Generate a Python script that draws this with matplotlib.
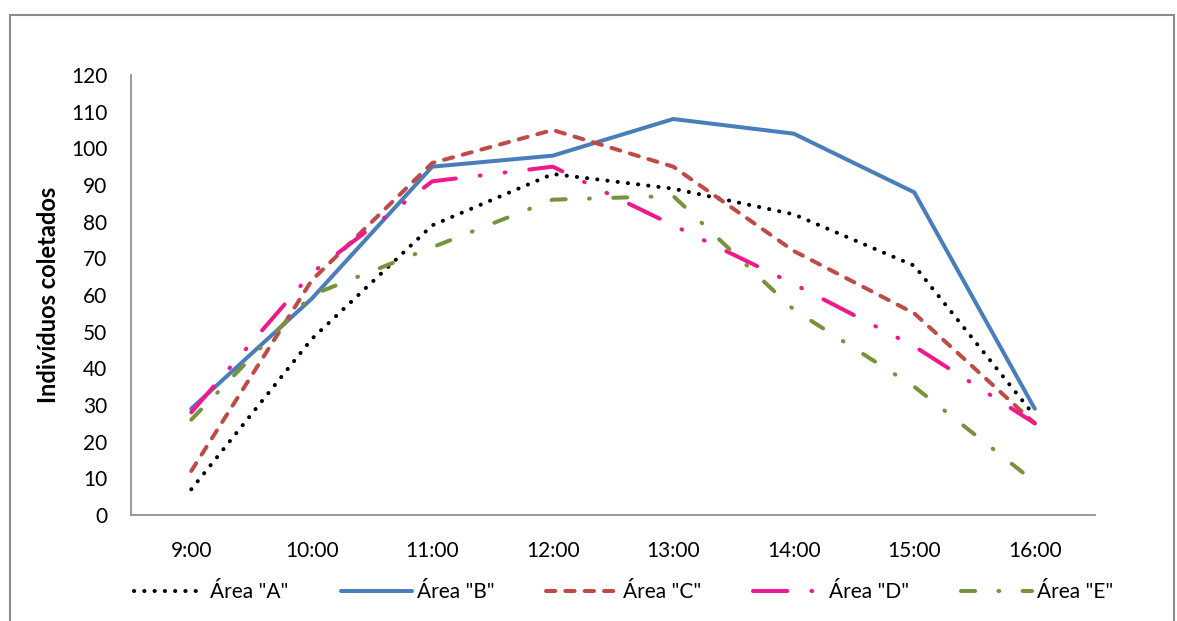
import matplotlib.pyplot as plt
from matplotlib.patches import Rectangle

# horas de coleta
horas = ['9:00', '10:00', '11:00', '12:00', '13:00', '14:00', '15:00', '16:00']

# individuos coletados por area
area_a = [7, 48, 79, 93, 89, 82, 68, 27]
area_b = [29, 59, 95, 98, 108, 104, 88, 29]
area_c = [12, 64, 96, 105, 95, 72, 55, 25]
area_d = [28, 66, 91, 95, 79, 63, 46, 25]
area_e = [26, 60, 73, 86, 87, 56, 35, 9]

y_ticks = list(range(0, 121, 10))

plt.rcParams['font.family'] = ['Lato', 'DejaVu Sans']

fig = plt.figure(figsize=(11.77, 6.21), dpi=100)
ax = fig.add_axes([131 / 1177, 1 - 515 / 621, 964 / 1177, 440 / 621])

lw = 2.9
x = range(len(horas))
series = [
    ('Área "A"', area_a, '#000000', (0, (0.05, 2.5))),
    ('Área "B"', area_b, '#4A7EBB', '-'),
    ('Área "C"', area_c, '#BE4B48', (0, (2.3, 2.5))),
    ('Área "D"', area_d, '#F0188C', (0, (8.5, 6.0, 0.2, 6.0, 0.2, 6.0))),
    ('Área "E"', area_e, '#77933C', (0, (3.5, 5.8, 0.2, 5.8))),
]
for label, vals, color, ls in series:
    ax.plot(x, vals, color=color, linestyle=ls, linewidth=lw, label=label,
            dash_capstyle='round', solid_joinstyle='round', solid_capstyle='round')

ax.set_xlim(-0.5, len(horas) - 0.5)
ax.set_ylim(0, 120)
ax.set_yticks(y_ticks)
ax.set_xticks(list(x))
ax.set_xticklabels(horas)
ax.tick_params(axis='both', length=0, labelsize=15, colors='#000000')
ax.tick_params(axis='y', pad=17)
ax.tick_params(axis='x', pad=19)

for side in ['top', 'right']:
    ax.spines[side].set_visible(False)
for side in ['left', 'bottom']:
    ax.spines[side].set_color('#868686')
    ax.spines[side].set_linewidth(1.2)

ax.set_ylabel('Indivíduos coletados', fontsize=17, fontweight='bold')
ax.yaxis.set_label_coords(-0.074, 0.5)

fig.legend(loc='center', bbox_to_anchor=(0.53, 1 - 592 / 621), ncol=5,
           frameon=False, fontsize=15, handlelength=3.4, handletextpad=0.25,
           columnspacing=2.5)

# moldura do grafico
fig.patches.append(Rectangle((10 / 1177, -0.1), 1164 / 1177, 1.1 - 15 / 621,
                             transform=fig.transFigure, fill=False,
                             edgecolor='#8C8C8C', linewidth=1.5))

fig.savefig('out.png', dpi=100)
